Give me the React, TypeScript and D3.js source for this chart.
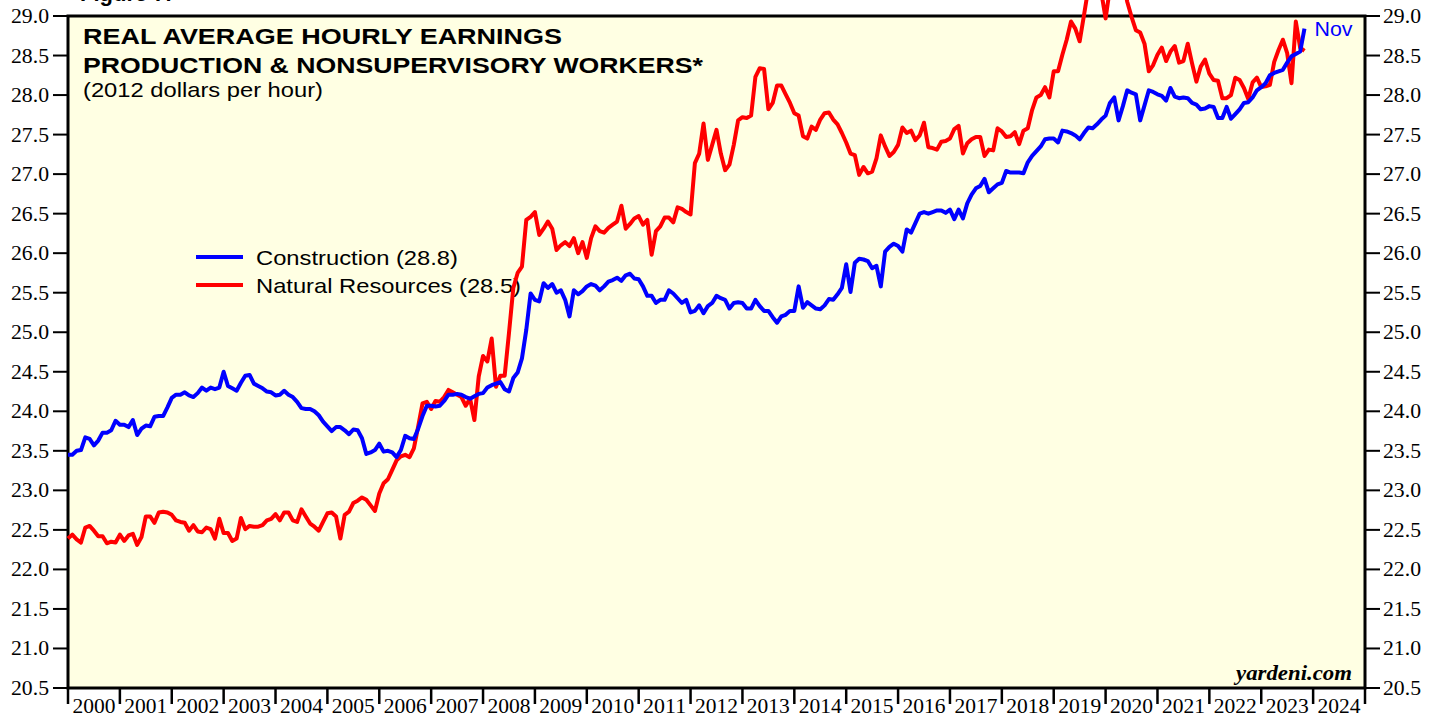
import React, { useEffect, useRef } from 'react';
import * as d3 from 'd3';

// monthly values, Jan 2000 .. Nov 2023 (one row per year)
const CONSTRUCTION: number[] = [
  23.45, 23.45, 23.50, 23.51, 23.67, 23.65, 23.57, 23.63, 23.73, 23.73, 23.76, 23.88,
  23.83, 23.83, 23.80, 23.89, 23.70, 23.78, 23.82, 23.81, 23.93, 23.94, 23.94, 24.05,
  24.17, 24.21, 24.21, 24.24, 24.20, 24.18, 24.23, 24.30, 24.26, 24.30, 24.28, 24.30,
  24.50, 24.32, 24.29, 24.26, 24.36, 24.45, 24.46, 24.35, 24.32, 24.29, 24.25, 24.24,
  24.20, 24.21, 24.26, 24.21, 24.18, 24.12, 24.04, 24.03, 24.03, 24.00, 23.95, 23.87,
  23.81, 23.75, 23.80, 23.80, 23.76, 23.71, 23.77, 23.76, 23.66, 23.46, 23.48, 23.51,
  23.59, 23.49, 23.50, 23.48, 23.42, 23.51, 23.69, 23.66, 23.65, 23.78, 23.94, 24.07,
  24.07, 24.06, 24.07, 24.13, 24.21, 24.21, 24.22, 24.21, 24.18, 24.16, 24.19, 24.22,
  24.23, 24.30, 24.33, 24.35, 24.37, 24.28, 24.25, 24.42, 24.49, 24.67, 25.03, 25.49,
  25.41, 25.39, 25.62, 25.56, 25.61, 25.50, 25.53, 25.41, 25.20, 25.53, 25.48, 25.52,
  25.58, 25.61, 25.59, 25.53, 25.58, 25.64, 25.66, 25.69, 25.65, 25.72, 25.74, 25.68,
  25.67, 25.58, 25.46, 25.46, 25.37, 25.41, 25.41, 25.53, 25.49, 25.43, 25.37, 25.41,
  25.25, 25.27, 25.34, 25.24, 25.33, 25.37, 25.46, 25.43, 25.41, 25.30, 25.37, 25.38,
  25.37, 25.30, 25.30, 25.41, 25.33, 25.27, 25.27, 25.19, 25.12, 25.20, 25.22, 25.27,
  25.27, 25.58, 25.31, 25.38, 25.34, 25.30, 25.29, 25.34, 25.42, 25.41, 25.48, 25.56,
  25.86, 25.51, 25.88, 25.93, 25.92, 25.90, 25.81, 25.84, 25.58, 26.02, 26.08, 26.12,
  26.09, 26.02, 26.30, 26.26, 26.38, 26.50, 26.52, 26.50, 26.52, 26.54, 26.54, 26.51,
  26.55, 26.43, 26.55, 26.44, 26.63, 26.74, 26.82, 26.85, 26.94, 26.77, 26.82, 26.87,
  26.89, 27.04, 27.02, 27.02, 27.02, 27.01, 27.15, 27.23, 27.29, 27.35, 27.44, 27.45,
  27.45, 27.40, 27.55, 27.54, 27.52, 27.49, 27.44, 27.52, 27.59, 27.58, 27.63, 27.69,
  27.74, 27.90, 27.97, 27.68, 27.86, 28.06, 28.03, 28.01, 27.68, 27.87, 28.06, 28.04,
  28.01, 27.99, 27.93, 28.09, 27.98, 27.96, 27.97, 27.96, 27.90, 27.88, 27.82, 27.83,
  27.86, 27.85, 27.71, 27.71, 27.85, 27.70, 27.76, 27.82, 27.90, 27.91, 27.97, 28.06,
  28.10, 28.15, 28.25, 28.28, 28.30, 28.32, 28.41, 28.49, 28.52, 28.55, 28.84,
];

const NATURAL_RESOURCES: number[] = [
  22.39, 22.44, 22.38, 22.34, 22.53, 22.55, 22.49, 22.42, 22.42, 22.33, 22.35, 22.34,
  22.44, 22.36, 22.43, 22.45, 22.31, 22.41, 22.67, 22.67, 22.59, 22.72, 22.73, 22.72,
  22.69, 22.62, 22.60, 22.59, 22.49, 22.56, 22.48, 22.47, 22.53, 22.51, 22.39, 22.64,
  22.46, 22.46, 22.36, 22.39, 22.65, 22.51, 22.55, 22.54, 22.54, 22.56, 22.62, 22.64,
  22.70, 22.62, 22.72, 22.72, 22.62, 22.60, 22.76, 22.67, 22.58, 22.54, 22.49, 22.60,
  22.71, 22.72, 22.67, 22.39, 22.69, 22.73, 22.84, 22.87, 22.91, 22.88, 22.81, 22.74,
  22.96, 23.09, 23.14, 23.26, 23.38, 23.43, 23.45, 23.42, 23.53, 23.81, 24.10, 24.12,
  24.03, 24.13, 24.12, 24.18, 24.27, 24.24, 24.21, 24.18, 24.07, 24.16, 23.89, 24.44,
  24.70, 24.63, 24.92, 24.31, 24.45, 24.45, 24.99, 25.56, 25.75, 25.83, 26.42, 26.46,
  26.52, 26.23, 26.31, 26.40, 26.31, 26.04, 26.10, 26.14, 26.09, 26.19, 26.00, 26.14,
  25.94, 26.19, 26.34, 26.28, 26.26, 26.32, 26.36, 26.40, 26.60, 26.31, 26.37, 26.44,
  26.47, 26.36, 26.42, 25.98, 26.28, 26.34, 26.45, 26.45, 26.39, 26.58, 26.56, 26.52,
  26.49, 27.14, 27.26, 27.64, 27.18, 27.37, 27.56, 27.26, 27.05, 27.12, 27.37, 27.68,
  27.72, 27.71, 27.74, 28.23, 28.34, 28.33, 27.82, 27.90, 28.12, 28.12, 28.01, 27.90,
  27.77, 27.74, 27.48, 27.45, 27.60, 27.56, 27.69, 27.77, 27.78, 27.69, 27.63, 27.52,
  27.40, 27.26, 27.24, 26.99, 27.09, 27.01, 27.03, 27.20, 27.49, 27.35, 27.23, 27.28,
  27.37, 27.59, 27.52, 27.55, 27.43, 27.49, 27.65, 27.34, 27.33, 27.31, 27.41, 27.42,
  27.45, 27.57, 27.61, 27.26, 27.39, 27.44, 27.47, 27.47, 27.23, 27.31, 27.30, 27.58,
  27.54, 27.47, 27.48, 27.53, 27.38, 27.55, 27.58, 27.81, 27.97, 28.00, 28.10, 27.97,
  28.30, 28.30, 28.51, 28.70, 28.93, 28.84, 28.68, 29.01, 29.35, 29.45, 29.40, 29.30,
  28.97, 29.35, 29.80, 29.60, 29.45, 29.18, 28.99, 28.82, 28.79, 28.65, 28.30, 28.38,
  28.51, 28.60, 28.43, 28.55, 28.62, 28.41, 28.43, 28.65, 28.40, 28.17, 28.36, 28.45,
  28.27, 28.19, 28.18, 27.96, 27.96, 28.00, 28.22, 28.19, 28.09, 27.95, 28.16, 28.22,
  28.10, 28.11, 28.13, 28.42, 28.57, 28.70, 28.53, 28.15, 28.93, 28.60, 28.56,
];

const YEAR_LABELS = [
  '2000', '2001', '2002', '2003', '2004', '2005', '2006', '2007', '2008', '2009',
  '2010', '2011', '2012', '2013', '2014', '2015', '2016', '2017', '2018', '2019',
  '2020', '2021', '2022', '2023', '2024',
];

const Y_TICKS = [
  20.5, 21.0, 21.5, 22.0, 22.5, 23.0, 23.5, 24.0, 24.5,
  25.0, 25.5, 26.0, 26.5, 27.0, 27.5, 28.0, 28.5, 29.0,
];

const LEGEND = [
  { label: 'Construction (28.8)', color: '#0000ff' },
  { label: 'Natural Resources (28.5)', color: '#ff0000' },
];

const SANS = '"Liberation Sans", Arial, sans-serif';
const SERIF = '"Liberation Serif", "Times New Roman", serif';

export default function App() {
  const svgRef = useRef<SVGSVGElement>(null);
  const width = 1439;
  const height = 717;

  useEffect(() => {
    if (!svgRef.current) return;
    const svg = d3.select(svgRef.current);
    svg.selectAll('*').remove();

    const plot = { left: 68, right: 1365, top: 16, bottom: 688 };

    // x in months since Jan 2000, axis runs to Jan 2025
    const x = d3.scaleLinear().domain([0, YEAR_LABELS.length * 12]).range([plot.left, plot.right]);
    const y = d3.scaleLinear().domain([20.5, 29.0]).range([plot.bottom, plot.top]);

    svg.append('rect')
      .attr('x', plot.left)
      .attr('y', plot.top)
      .attr('width', plot.right - plot.left)
      .attr('height', plot.bottom - plot.top)
      .attr('fill', '#ffffe3')
      .attr('stroke', '#000')
      .attr('stroke-width', 3);

    // value axes, both sides
    Y_TICKS.forEach(v => {
      svg.append('line')
        .attr('x1', plot.left - 15).attr('x2', plot.left)
        .attr('y1', y(v)).attr('y2', y(v))
        .attr('stroke', '#000').attr('stroke-width', 2);
      svg.append('line')
        .attr('x1', plot.right).attr('x2', plot.right + 15)
        .attr('y1', y(v)).attr('y2', y(v))
        .attr('stroke', '#000').attr('stroke-width', 2);
      svg.append('text')
        .attr('x', plot.left - 19).attr('y', y(v) + 7)
        .attr('text-anchor', 'end')
        .attr('textLength', 38).attr('lengthAdjust', 'spacingAndGlyphs')
        .style('font-family', SERIF).style('font-size', '20px')
        .text(v.toFixed(1));
      svg.append('text')
        .attr('x', plot.right + 18).attr('y', y(v) + 7)
        .attr('textLength', 38).attr('lengthAdjust', 'spacingAndGlyphs')
        .style('font-family', SERIF).style('font-size', '20px')
        .text(v.toFixed(1));
    });

    // year axis
    d3.range(YEAR_LABELS.length + 1).forEach(i => {
      svg.append('line')
        .attr('x1', x(i * 12)).attr('x2', x(i * 12))
        .attr('y1', plot.bottom).attr('y2', plot.bottom + 16)
        .attr('stroke', '#000').attr('stroke-width', 2.5);
    });
    YEAR_LABELS.forEach((lab, i) => {
      svg.append('text')
        .attr('x', x(i * 12 + 6)).attr('y', 713)
        .attr('text-anchor', 'middle')
        .attr('textLength', 43).attr('lengthAdjust', 'spacingAndGlyphs')
        .style('font-family', SERIF).style('font-size', '20px')
        .text(lab);
    });

    // header (partly cut off at the top)
    svg.append('text')
      .attr('x', 80).attr('y', 1)
      .style('font-family', SANS).style('font-size', '22px').style('font-weight', 'bold')
      .text('Figure 7.');

    const title = [
      { t: 'REAL AVERAGE HOURLY EARNINGS', y: 44, w: 479 },
      { t: 'PRODUCTION & NONSUPERVISORY WORKERS*', y: 73, w: 620 },
    ];
    title.forEach(d => {
      svg.append('text')
        .attr('x', 83).attr('y', d.y)
        .attr('textLength', d.w).attr('lengthAdjust', 'spacingAndGlyphs')
        .style('font-family', SANS).style('font-size', '22px').style('font-weight', 'bold')
        .text(d.t);
    });
    svg.append('text')
      .attr('x', 83).attr('y', 97)
      .attr('textLength', 240).attr('lengthAdjust', 'spacingAndGlyphs')
      .style('font-family', SANS).style('font-size', '21px')
      .text('(2012 dollars per hour)');

    // legend
    const legendW = [202, 265];
    LEGEND.forEach((d, i) => {
      const ly = 257 + i * 28;
      svg.append('line')
        .attr('x1', 196).attr('x2', 243)
        .attr('y1', ly).attr('y2', ly)
        .attr('stroke', d.color).attr('stroke-width', 4);
      svg.append('text')
        .attr('x', 256).attr('y', ly + 8)
        .attr('textLength', legendW[i]).attr('lengthAdjust', 'spacingAndGlyphs')
        .style('font-family', SANS).style('font-size', '21px')
        .text(d.label);
    });

    svg.append('text')
      .attr('x', 1352).attr('y', 680)
      .attr('text-anchor', 'end')
      .attr('textLength', 116).attr('lengthAdjust', 'spacingAndGlyphs')
      .style('font-family', SERIF).style('font-size', '20px')
      .style('font-weight', 'bold').style('font-style', 'italic')
      .text('yardeni.com');

    const line = d3.line<number>()
      .x((_, i) => x(i))
      .y(d => y(d));

    [
      { data: NATURAL_RESOURCES, color: '#ff0000' },
      { data: CONSTRUCTION, color: '#0000ff' },
    ].forEach(s => {
      svg.append('path')
        .datum(s.data)
        .attr('fill', 'none')
        .attr('stroke', s.color)
        .attr('stroke-width', 4)
        .attr('stroke-linejoin', 'round')
        .attr('d', line);
    });

    const last = CONSTRUCTION.length - 1;
    svg.append('text')
      .attr('x', x(last) + 10).attr('y', 36)
      .attr('textLength', 38).attr('lengthAdjust', 'spacingAndGlyphs')
      .attr('fill', '#0000ff')
      .style('font-family', SANS).style('font-size', '20px')
      .text('Nov');
  }, []);

  return (
    <svg
      ref={svgRef}
      width={width}
      height={height}
      style={{ position: 'absolute', left: 0, top: 0, background: '#fff' }}
    />
  );
}
